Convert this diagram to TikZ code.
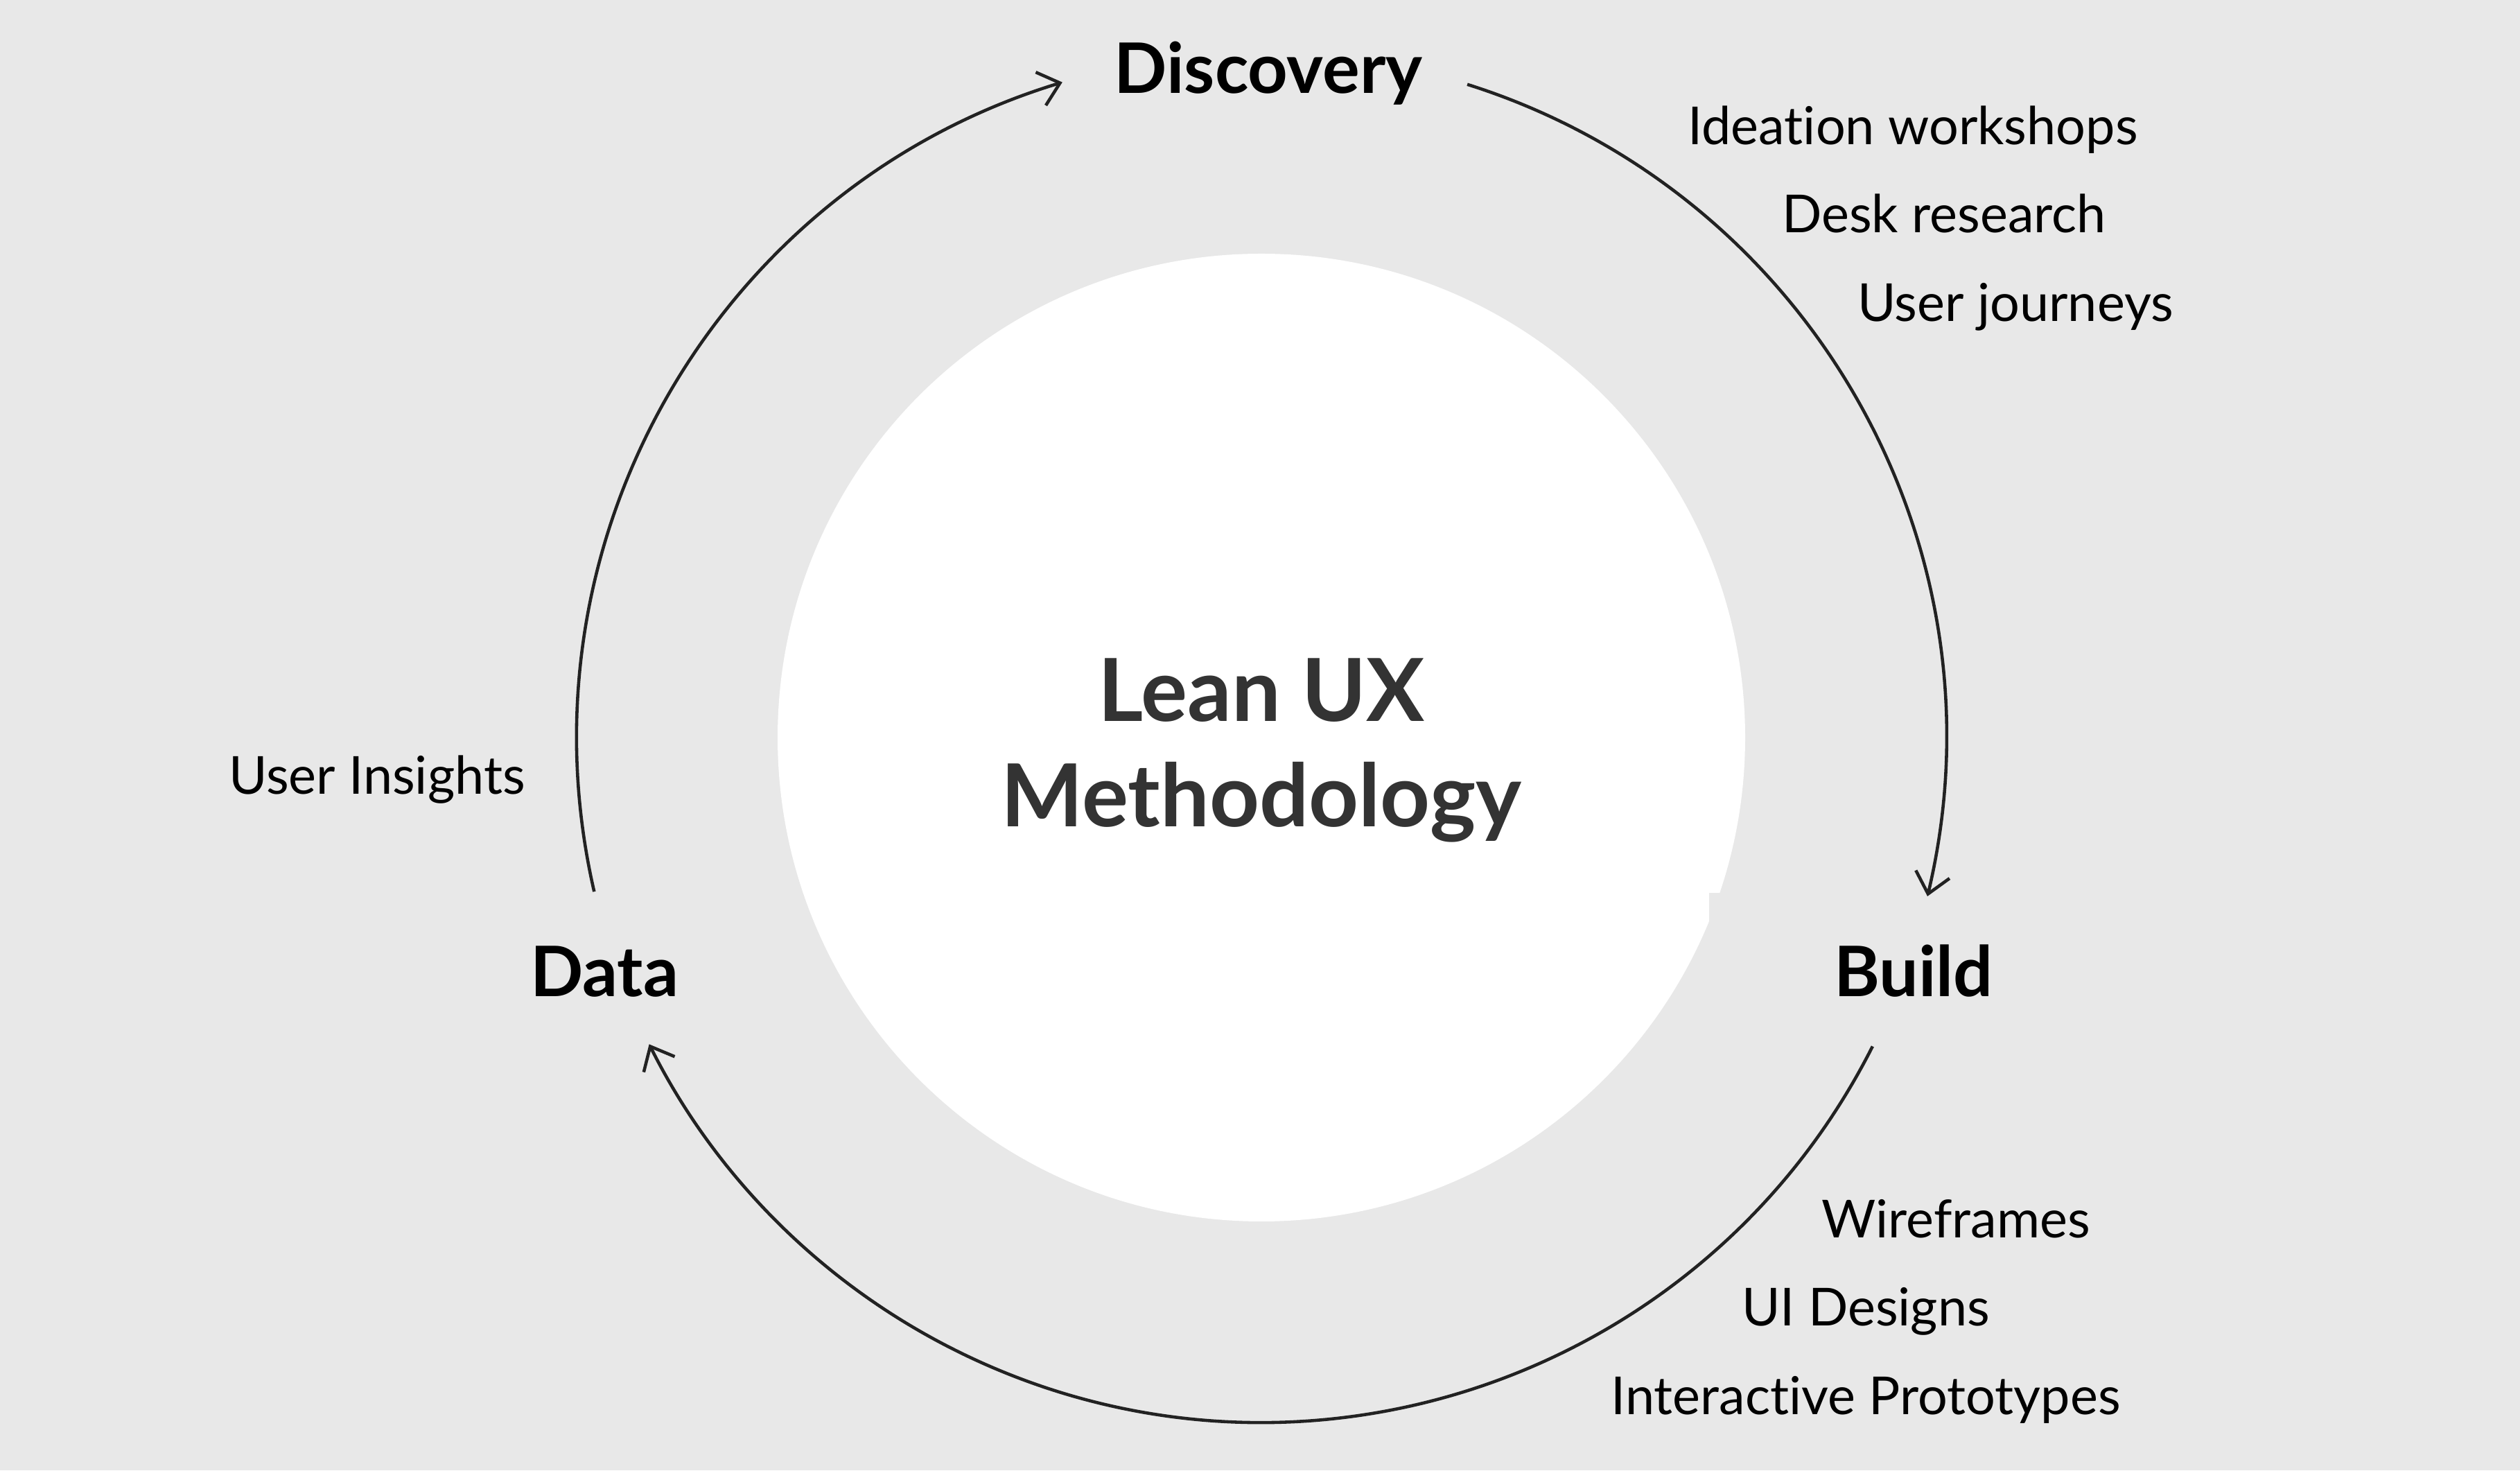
\documentclass[tikz,border=0pt]{standalone}
\usepackage{fontspec}
\setmainfont{Lato}[Ligatures=NoCommon]
\usetikzlibrary{arrows.meta}

\definecolor{canvas}{HTML}{E8E8E8}
\definecolor{ink}{HTML}{222222}
\definecolor{titlegray}{HTML}{333333}

\tikzset{
  phase/.style={font=\fontsize{28.6}{34}\selectfont\bfseries, text=black, anchor=base, inner sep=0pt},
  task/.style={font=\fontsize{21.5}{26}\selectfont, text=black, anchor=base, inner sep=0pt},
  headline/.style={font=\fontsize{35.7}{44}\selectfont\bfseries, text=titlegray, anchor=base, inner sep=0pt},
  cycle/.style={draw=ink, line width=1.3pt, -{Straight Barb[length=2.9mm, width=5mm]}},
}

\begin{document}
\begin{tikzpicture}
	\useasboundingbox (0,0) rectangle (36.36,21.21);
	\fill[canvas] (0,0) rectangle (36.36,21.21);

	% white disc in the middle
	\node[circle, fill=white, minimum size=13.96cm, inner sep=0pt] (hub) at (18.20,10.57) {};
	\fill[canvas] (24.66,8.33) rectangle (26.0,7.0);

	\node[headline] (lean) at (18.20,10.80) {Lean UX};
	\node[headline] (method) at (18.20,9.28) {Methodology};

	% phases
	\node[phase] (discovery) at (18.30,19.86) {Discovery};
	\node[phase] (build) at (27.61,6.83) {Build};
	\node[phase] (data) at (8.72,6.83) {Data};

	% tasks
	\node[task] (ideation) at (27.60,19.12) {Ideation workshops};
	\node[task] (desk) at (28.05,17.85) {Desk research};
	\node[task] (journeys) at (29.08,16.57) {User journeys};

	\node[task] (wire) at (28.22,3.35) {Wireframes};
	\node[task] (uidesign) at (26.92,2.08) {UI Designs};
	\node[task] (proto) at (26.92,0.80) {Interactive Prototypes};

	\node[task] (insights) at (5.44,9.75) {User Insights};

	% the loop
	\draw[cycle] ([shift={(72.5:9.88)}]hub.center) arc[start angle=72.5, end angle=-13.4, radius=9.88];
	\draw[cycle] ([shift={(-26.8:9.88)}]hub.center) arc[start angle=-26.8, end angle=-153.4, radius=9.88];
	\draw[cycle] ([shift={(193.0:9.88)}]hub.center) arc[start angle=193.0, end angle=106.9, radius=9.88];
\end{tikzpicture}
\end{document}
